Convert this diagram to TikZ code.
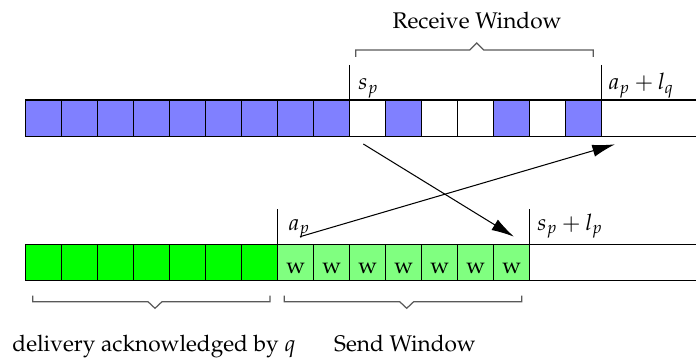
\documentclass[tikz,border=0pt]{standalone}
\usepackage[T1]{fontenc}
\usepackage{mathpazo}
\usetikzlibrary{arrows.meta}
\definecolor{cellblue}{RGB}{128,128,255}
\definecolor{cellgreen}{RGB}{0,255,0}
\definecolor{cellltgreen}{RGB}{128,255,128}
\begin{document}
\begin{tikzpicture}[x=0.53pt,y=-0.53pt,
  every node/.style={font=\fontsize{12}{14}\selectfont},
  cell/.style={draw=black,line width=0.6pt},
  tick/.style={draw=black,line width=0.6pt},
  brk/.style={draw=black!65,line width=0.65pt},
  lbl/.style={anchor=base west,inner sep=0pt},
  ttl/.style={anchor=base,inner sep=0pt},
  arr/.style={-{Latex[length=12pt,width=6.5pt]},line width=0.55pt}]
\useasboundingbox (0,0) rectangle (696,358);
% top row
\foreach \i/\c in {0/cellblue,1/cellblue,2/cellblue,3/cellblue,4/cellblue,5/cellblue,6/cellblue,7/cellblue,8/cellblue,9/white,10/cellblue,11/white,12/white,13/cellblue,14/white,15/cellblue}
  \filldraw[cell,fill=\c] ({25.7+36*\i},100) rectangle ++(36,36.5);
\draw[cell] (601.7,100) -- (700,100) (601.7,136.5) -- (700,136.5);
\draw[tick] (349.7,65) -- (349.7,100);
\draw[tick] (601.7,65) -- (601.7,100);
\node[lbl] (sp) at (358,90) {$s_p$};
\node[lbl] (apq) at (608,90) {$a_p+l_q$};
% receive window bracket
\draw[brk] (355.7,57) -- (355.7,50) -- (469.7,50) -- (476.7,43) -- (483.7,50) -- (593.3,50) -- (593.3,57);
\node[ttl] (rw) at (477,29) {Receive Window};
% bottom row
\foreach \i in {0,...,6}
  \filldraw[cell,fill=cellgreen] ({25.7+36*\i},244.3) rectangle ++(36,36);
\foreach \i in {7,...,13}{
  \filldraw[cell,fill=cellltgreen] ({25.7+36*\i},244.3) rectangle ++(36,36);
  \node[ttl] (w\i) at ({43.7+36*\i},273) {w};
}
\draw[cell] (529.7,244.3) -- (700,244.3) (529.7,280.3) -- (700,280.3);
\draw[tick] (277.7,209) -- (277.7,244.3);
\draw[tick] (529.7,209) -- (529.7,244.3);
\node[lbl] (ap) at (288,230) {$a_p$};
\node[lbl] (spl) at (537,230) {$s_p+l_p$};
% bottom brackets
\draw[brk] (32.7,295.7) -- (32.7,301.7) -- (148,301.7) -- (155,308.3) -- (162,301.7) -- (270,301.7) -- (270,295.7);
\draw[brk] (284.3,295.7) -- (284.3,301.7) -- (399.7,301.7) -- (406.7,308.3) -- (413.7,301.7) -- (521.7,301.7) -- (521.7,295.7);
\node[ttl] (dq) at (154,351) {delivery acknowledged by $q$};
\node[ttl] (sw) at (405,351) {Send Window};
% arrows
\coordinate (a1s) at (363.3,144);
\coordinate (a1e) at (514,236.7);
\coordinate (a2s) at (300,236.7);
\coordinate (a2e) at (615,144.3);
\draw[arr] (a1s) -- (a1e);
\draw[arr] (a2s) -- (a2e);
\end{tikzpicture}
\end{document}
